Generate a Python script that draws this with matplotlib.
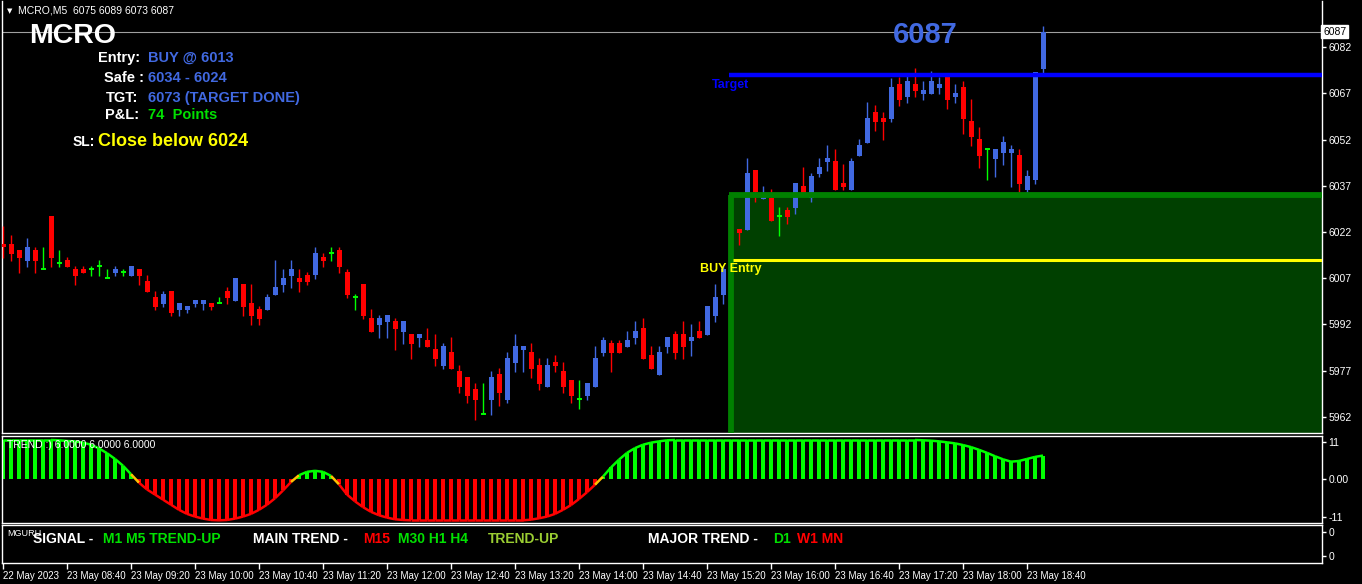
import matplotlib
matplotlib.use("Agg")
import matplotlib.pyplot as plt
from matplotlib.collections import LineCollection
import matplotlib.transforms as mtransforms
import numpy as np

plt.rcParams['font.family'] = ['Liberation Sans', 'DejaVu Sans']

# ---------------- data ----------------
opens = [6018.1, 6018.1, 6016.2, 6012.7, 6016.2, 6009.9, 6027.2, 6011.9, 6012.9, 6010.0,
         6010.0, 6010.0, 6011.0, 6007.1, 6008.8, 6009.0, 6007.9, 6010.0, 6006.1, 6000.9,
         5998.8, 6002.9, 5996.8, 5996.8, 5998.8, 5998.8, 5999.0, 5998.9, 6002.9, 5999.7,
         6005.2, 5999.0, 5997.0, 5996.7, 6001.6, 6004.8, 6007.7, 6007.1, 6008.1, 6008.1,
         6013.9, 6015.2, 6016.2, 6009.0, 6000.9, 6005.1, 5994.1, 5991.8, 5992.8, 5993.1,
         5989.6, 5988.9, 5987.6, 5986.9, 5984.0, 5978.5, 5983.0, 5976.9, 5974.9, 5971.0,
         5962.9, 5967.5, 5975.9, 5967.5, 5979.5, 5983.7, 5983.1, 5978.9, 5971.8, 5979.8,
         5976.9, 5974.0, 5967.8, 5968.9, 5971.8, 5982.9, 5986.0, 5986.0, 5984.8, 5987.6,
         5990.9, 5982.1, 5975.7, 5984.8, 5988.9, 5988.9, 5986.8, 5989.9, 5988.7, 5994.9,
         6001.6, 6010.0, 6023.0, 6022.7, 6042.2, 6032.8, 6033.0, 6027.1, 6029.2, 6029.8,
         6037.0, 6033.1, 6040.9, 6044.8, 6045.1, 6037.9, 6035.7, 6046.7, 6050.9, 6061.0,
         6059.0, 6058.7, 6070.1, 6065.9, 6070.1, 6066.8, 6066.8, 6068.8, 6073.0, 6065.9,
         6069.1, 6058.1, 6052.2, 6049.0, 6045.7, 6047.7, 6047.7, 6047.0, 6035.7, 6038.9,
         6075.0]
highs = [6024.0, 6021.1, 6016.2, 6020.1, 6017.2, 6017.2, 6027.2, 6016.2, 6013.9, 6011.0,
         6011.0, 6011.0, 6012.9, 6010.0, 6011.0, 6010.0, 6011.0, 6010.0, 6008.1, 6002.9,
         6002.9, 6002.9, 5999.0, 5998.0, 6000.0, 6000.0, 5999.0, 6000.9, 6004.2, 6007.1,
         6005.2, 6005.2, 5998.0, 6001.9, 6012.9, 6010.0, 6012.9, 6010.0, 6009.0, 6017.1,
         6015.2, 6017.1, 6017.1, 6010.0, 6001.9, 6005.1, 5997.0, 5995.1, 5995.1, 5994.1,
         5993.1, 5988.9, 5988.9, 5990.8, 5988.9, 5986.0, 5987.9, 5978.8, 5974.9, 5973.0,
         5973.0, 5976.9, 5977.9, 5983.0, 5988.9, 5985.0, 5986.0, 5981.1, 5981.1, 5982.1,
         5979.8, 5974.0, 5974.0, 5973.0, 5985.0, 5987.9, 5987.0, 5987.0, 5989.9, 5993.1,
         5994.1, 5985.0, 5985.0, 5987.9, 5989.9, 5993.1, 5992.2, 5993.1, 5998.0, 6005.2,
         6011.0, 6014.0, 6023.0, 6046.1, 6042.2, 6037.0, 6036.0, 6030.1, 6030.1, 6037.9,
         6043.1, 6041.2, 6046.1, 6050.3, 6049.0, 6044.1, 6046.1, 6052.2, 6064.2, 6063.3,
         6061.0, 6072.0, 6072.5, 6073.0, 6075.3, 6071.0, 6074.3, 6072.5, 6073.0, 6070.1,
         6071.0, 6065.2, 6056.1, 6049.0, 6049.0, 6053.2, 6050.3, 6049.0, 6042.2, 6074.0,
         6089.0]
lows = [6013.5, 6012.7, 6008.8, 6010.8, 6008.8, 6009.9, 6010.8, 6010.8, 6010.8, 6004.9,
        6008.8, 6007.9, 6007.9, 6007.1, 6007.9, 6007.9, 6007.9, 6004.9, 6002.7, 5996.8,
        5997.8, 5994.9, 5994.9, 5995.8, 5997.8, 5996.8, 5996.8, 5998.9, 5998.8, 5999.7,
        5994.9, 5991.9, 5991.9, 5996.7, 6001.6, 6002.5, 6003.8, 6002.5, 6004.8, 6006.8,
        6010.7, 6012.6, 6008.7, 6000.6, 5996.7, 5993.8, 5989.6, 5987.6, 5987.6, 5983.7,
        5985.6, 5980.8, 5984.7, 5984.7, 5978.5, 5977.5, 5977.5, 5969.7, 5966.5, 5961.0,
        5962.9, 5962.6, 5965.5, 5966.5, 5976.6, 5976.6, 5974.7, 5970.8, 5971.8, 5976.7,
        5969.9, 5966.6, 5964.7, 5967.6, 5971.8, 5981.8, 5976.7, 5982.9, 5984.8, 5985.7,
        5980.9, 5977.7, 5975.7, 5982.9, 5980.9, 5980.9, 5981.8, 5987.6, 5988.7, 5992.9,
        5998.7, 6009.0, 6017.8, 6022.7, 6031.8, 6032.8, 6025.6, 6020.7, 6024.6, 6027.9,
        6034.7, 6031.8, 6039.9, 6041.8, 6035.7, 6035.7, 6035.7, 6046.7, 6050.9, 6054.8,
        6051.9, 6057.7, 6063.0, 6063.9, 6065.9, 6064.9, 6066.8, 6066.8, 6062.0, 6063.9,
        6053.8, 6050.0, 6042.8, 6038.9, 6039.9, 6043.8, 6036.6, 6034.4, 6034.4, 6037.6,
        6073.0]
closes = [6017.0, 6014.9, 6013.7, 6017.2, 6012.7, 6009.9, 6013.7, 6011.9, 6010.8, 6007.9,
          6008.8, 6010.0, 6011.0, 6007.1, 6010.0, 6009.0, 6011.0, 6007.9, 6002.7, 5997.8,
          6001.9, 5995.8, 5999.0, 5998.0, 6000.0, 6000.0, 5997.8, 5998.9, 6000.6, 6007.1,
          5997.8, 5994.9, 5993.9, 6000.9, 6004.2, 6007.1, 6010.0, 6005.8, 6005.8, 6015.2,
          6012.6, 6015.2, 6010.7, 6001.6, 6000.9, 5994.8, 5989.6, 5994.1, 5995.1, 5990.5,
          5993.1, 5985.6, 5988.9, 5984.7, 5980.8, 5985.0, 5977.5, 5971.7, 5968.8, 5967.5,
          5962.9, 5974.9, 5969.7, 5981.1, 5985.0, 5985.0, 5977.7, 5972.8, 5978.9, 5978.5,
          5971.8, 5968.9, 5967.8, 5973.0, 5981.1, 5987.0, 5982.9, 5982.9, 5987.0, 5989.9,
          5980.9, 5977.7, 5983.1, 5987.9, 5982.9, 5984.8, 5987.9, 5987.6, 5998.0, 6000.9,
          6010.0, 6013.0, 6021.7, 6041.2, 6035.0, 6033.8, 6025.6, 6027.1, 6026.9, 6037.9,
          6034.7, 6040.2, 6043.1, 6046.1, 6035.7, 6036.6, 6045.1, 6050.3, 6059.0, 6057.7,
          6057.7, 6069.1, 6064.9, 6071.0, 6067.8, 6068.1, 6071.0, 6070.1, 6064.9, 6067.2,
          6058.7, 6052.9, 6046.7, 6049.0, 6049.0, 6051.2, 6049.0, 6037.6, 6040.2, 6074.0,
          6087.0]

trend = [11.6, 11.6, 11.6, 11.6, 11.6, 11.6, 11.6, 11.5, 11.3, 11.2,
         10.8, 10.2, 9.1, 7.7, 6.0, 4.0, 1.5, -1.0, -3.0, -4.5,
         -6.0, -7.5, -9.0, -10.2, -11.0, -11.6, -12.0, -12.1, -12.0, -11.6,
         -11.0, -10.2, -9.0, -7.5, -5.6, -3.3, -0.8, 1.2, 2.2, 2.5,
         2.2, 1.0, -1.5, -4.5, -6.5, -8.2, -9.6, -10.6, -11.3, -11.8,
         -12.0, -12.1, -12.1, -12.1, -12.1, -12.1, -12.1, -12.1, -12.1, -12.1,
         -12.1, -12.1, -12.1, -12.1, -12.1, -12.1, -11.9, -11.5, -11.0, -10.2,
         -9.0, -7.6, -5.8, -3.8, -1.6, 0.8, 3.5, 5.8, 7.8, 9.2,
         10.2, 10.8, 11.2, 11.5, 11.6, 11.6, 11.6, 11.6, 11.6, 11.6,
         11.6, 11.6, 11.6, 11.6, 11.6, 11.6, 11.6, 11.6, 11.6, 11.6,
         11.6, 11.6, 11.6, 11.6, 11.6, 11.6, 11.6, 11.6, 11.6, 11.6,
         11.6, 11.6, 11.6, 11.6, 11.6, 11.5, 11.4, 11.2, 10.9, 10.6,
         10.1, 9.5, 8.7, 7.8, 6.8, 5.9, 5.2, 5.4, 6.0, 6.6,
         7.0]

price_ticks = [6082, 6067, 6052, 6037, 6022, 6007, 5992, 5977, 5962]
time_labels = ["22 May 2023", "23 May 08:40", "23 May 09:20", "23 May 10:00", "23 May 10:40",
               "23 May 11:20", "23 May 12:00", "23 May 12:40", "23 May 13:20", "23 May 14:00",
               "23 May 14:40", "23 May 15:20", "23 May 16:00", "23 May 16:40", "23 May 17:20",
               "23 May 18:00", "23 May 18:40"]
bars_per_label = 8

last_price = 6087
target_price = 6073
entry_price = 6013
zone_top = 6034
zone_bottom = 5900
zone_start_bar = 91

# ---------------- figure ----------------
W, H = 1362, 584
fig = plt.figure(figsize=(W / 100, H / 100), dpi=100, facecolor='black')


def ax_px(x0, y0, x1, y1):
    a = fig.add_axes([x0 / W, 1 - y1 / H, (x1 - x0) / W, (y1 - y0) / H])
    a.set_facecolor('black')
    for s in a.spines.values():
        s.set_color('white')
        s.set_linewidth(1)
    return a


def ftext(x, y, s, **kw):
    kw.setdefault('va', 'baseline')
    kw.setdefault('ha', 'left')
    fig.text(x / W, 1 - y / H, s, **kw)


n = len(opens)
xs = np.arange(n)
O = np.array(opens); Hh = np.array(highs); L = np.array(lows); C = np.array(closes)
XL = (-0.125, 164.875)

BLUE = '#4169E1'
RED = '#FF0000'
LIME = '#00FF00'
TICK_FS = 7.5
TIME_FS = 7

# ---------------- main chart ----------------
ax = ax_px(2, 1, 1322, 433)
ax.set_xlim(*XL)
ax.set_ylim(5956.77, 6097.03)
ax.spines['top'].set_visible(False)

cols = [BLUE if c > o else (RED if c < o else LIME) for o, c in zip(O, C)]

# zone fill
ax.add_patch(plt.Rectangle((zone_start_bar - 0.06, zone_bottom), 200, zone_top - zone_bottom,
                           facecolor='#004000', edgecolor='none', zorder=1))

ax.vlines(xs, L, Hh, colors=cols, linewidth=1, zorder=3)
body = np.where(C == O, 0, C - O)
ax.bar(xs, body, bottom=O, width=0.625, color=cols, linewidth=0, zorder=4)
for i in range(n):
    if C[i] == O[i]:
        ax.hlines(O[i], i - 0.3125, i + 0.3125, colors=LIME, linewidth=1.4, zorder=4)

# zone border (top & left)
ax.hlines(zone_top, zone_start_bar - 0.3, XL[1], colors='#008000', linewidth=4.2, zorder=5)
ax.vlines(zone_start_bar - 0.06, 5950, zone_top, colors='#008000', linewidth=4.2, zorder=5)
# target and entry lines
ax.hlines(target_price, zone_start_bar - 0.3, XL[1], colors='#0000FF', linewidth=3.2, zorder=6)
ax.hlines(entry_price, zone_start_bar + 0.3, XL[1], colors='#FFFF00', linewidth=2.2, zorder=6)
# last price line
ax.axhline(last_price, color='#A0A0A0', linewidth=0.8, zorder=2)

ax.yaxis.tick_right()
ax.set_yticks(price_ticks)
ax.set_yticklabels([str(p) for p in price_ticks])
ax.tick_params(axis='y', colors='white', labelsize=TICK_FS, length=3, width=1, pad=1.5)
ax.set_xticks([])
trans = mtransforms.blended_transform_factory(ax.transAxes, ax.transData)
ax.text(1.0008, last_price, str(last_price), transform=trans, fontsize=TICK_FS, color='black',
        va='center', ha='left',
        bbox=dict(boxstyle='square,pad=0.15', facecolor='white', edgecolor='white'))

# ---------------- indicator panel ----------------
ai = ax_px(2, 436, 1322, 523)
ai.set_xlim(*XL)
ai.set_ylim(-12.89, 12.77)
tr = np.array(trend)
bcols = [LIME if v >= 0 else RED for v in tr]
ai.bar(xs, tr, width=0.5, color=bcols, linewidth=0, zorder=2)
segs, scols = [], []
for i in range(n - 1):
    segs.append([(i, tr[i]), (i + 1, tr[i + 1])])
    if tr[i] >= 0 and tr[i + 1] >= 0:
        scols.append(LIME)
    elif tr[i] < 0 and tr[i + 1] < 0:
        scols.append(RED)
    else:
        scols.append('#FFC000')
ai.add_collection(LineCollection(segs, colors=scols, linewidths=1.8, zorder=3))
ai.yaxis.tick_right()
ai.set_yticks([11, 0, -11])
ai.set_yticklabels(['11', '0.00', '-11'])
ai.tick_params(axis='y', colors='white', labelsize=TICK_FS, length=3, width=1, pad=1.5)
ai.set_xticks([])

# ---------------- bottom panel ----------------
ab = ax_px(2, 525, 1322, 563)
ab.set_xlim(*XL)
ab.set_ylim(0, 1)
ab.yaxis.tick_right()
ab.set_yticks([0.184, 0.816])
ab.set_yticklabels(['0', '0'])
ab.tick_params(axis='y', colors='white', labelsize=TICK_FS, length=3, width=1, pad=1.5)
tick_pos = np.arange(len(time_labels)) * bars_per_label
ab.set_xticks(tick_pos)
ab.set_xticklabels(time_labels, ha='left')
ab.tick_params(axis='x', colors='white', labelsize=TIME_FS, length=4, width=1, pad=1.5)

# ---------------- texts ----------------
ftext(7, 13, '\u25BC', fontsize=5, color='white', family=['DejaVu Sans'])
ftext(18, 13.5, 'MCRO,M5  6075 6089 6073 6087', fontsize=7.5, color='white')
ftext(29, 43, 'MCRO', fontsize=20.5, color='white', fontweight='bold')

lab = dict(fontsize=10.5, fontweight='bold')
ftext(98, 62, 'Entry:', color='white', **lab)
ftext(148, 62, 'BUY @ 6013', color=BLUE, **lab)
ftext(104, 82, 'Safe :', color='white', **lab)
ftext(148, 82, '6034 - 6024', color=BLUE, **lab)
ftext(106, 102, 'TGT:', color='white', **lab)
ftext(148, 102, '6073 (TARGET DONE)', color=BLUE, **lab)
ftext(105, 119, 'P&L:', color='white', **lab)
ftext(148, 119, '74  Points', color='#00E000', **lab)
ftext(73, 146, 'SL:', color='white', fontsize=10, fontweight='bold')
ftext(98, 146, 'Close below 6024', color='#FFFF00', fontsize=13, fontweight='bold')

ftext(893, 43, '6087', fontsize=21, color=BLUE, fontweight='bold')
ftext(712, 88, 'Target', fontsize=9, color='#0000FF', fontweight='bold')
ftext(700, 272, 'BUY Entry', fontsize=9, color='#FFFF00', fontweight='bold')

ftext(7, 448, 'TREND :) 6.0000 6.0000 6.0000', fontsize=7.5, color='white')
ftext(7, 536, 'MGURU', fontsize=6.5, color='white')

sb = dict(fontsize=10, fontweight='bold')
ftext(33, 543, 'SIGNAL - ', color='white', **sb)
ftext(103, 543, 'M1 M5 TREND-UP', color='#00E000', **sb)
ftext(253, 543, 'MAIN TREND - ', color='white', **sb)
ftext(363, 543, 'M15', color='#FF0000', **sb)
ftext(398, 543, 'M30 H1 H4', color='#00E000', **sb)
ftext(488, 543, 'TREND-UP', color='#9ACD32', **sb)
ftext(648, 543, 'MAJOR TREND - ', color='white', **sb)
ftext(773, 543, 'D1', color='#00E000', **sb)
ftext(797, 543, 'W1 MN', color='#FF0000', **sb)

fig.savefig('out.png', dpi=100, facecolor='black')
